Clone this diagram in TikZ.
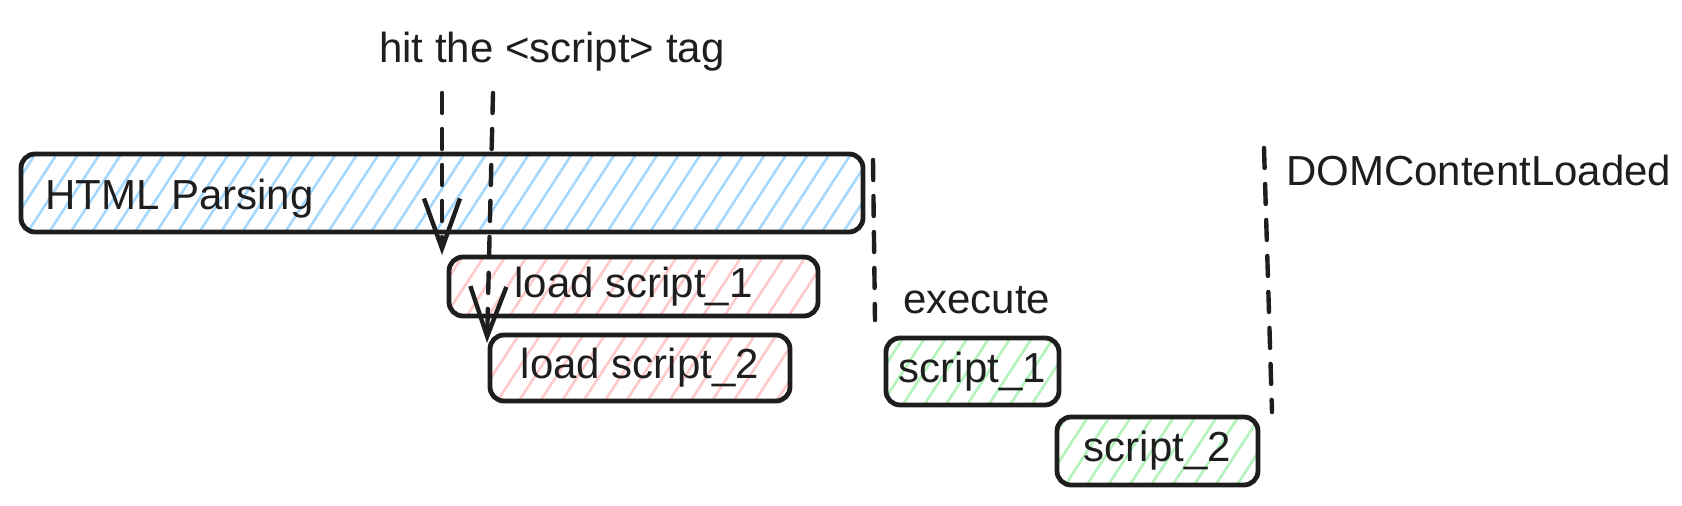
\documentclass[tikz,border=0pt]{standalone}
\usepackage{fontspec}
\setmainfont{Liberation Sans}
\usetikzlibrary{arrows.meta,patterns.meta}
\definecolor{ink}{HTML}{1E1E1E}
\definecolor{parseblue}{HTML}{A5D8FF}
\definecolor{loadred}{HTML}{FFC9C9}
\definecolor{runGreen}{HTML}{B2F2BB}
\tikzset{>={Straight Barb[length=25pt,width=18pt]}, % open v-shaped heads
every node/.style={font=\fontsize{21}{24}\selectfont, text=ink}, % same text size everywhere
phase/.style={draw=ink, line width=2.4pt, rounded corners=7pt, inner sep=0pt,
  pattern={Lines[angle=57,distance=9pt,line width=1.3pt]}, pattern color=#1}, % hatched bar
marker/.style={draw=ink, line width=2.2pt, dash pattern=on 10pt off 8pt, line cap=round}, % dashed time mark
}

\begin{document}
\begin{tikzpicture}[x=0.5pt,y=-0.5pt]
\useasboundingbox (0,0) rectangle (1682,506);
\node[phase=parseblue, minimum width=421pt, minimum height=39pt] (html) at (442,193) {};
\node[anchor=base west] (htmllbl) at (38,210) {HTML Parsing};
\node[phase=loadred, minimum width=184.5pt, minimum height=29.5pt] (load1) at (633.5,286.5) {load script\_1};
\node[phase=loadred, minimum width=150pt, minimum height=33pt] (load2) at (640,368) {load script\_2};
\node[phase=runGreen, minimum width=86.5pt, minimum height=33.5pt] (run1) at (972.5,371.5) {script\_1};
\node[phase=runGreen, minimum width=100.5pt, minimum height=34pt] (run2) at (1157.5,451) {script\_2};
\node[anchor=base west] (tag) at (372,63) {hit the <script> tag};
\node[anchor=base west] (exec) at (896,314) {execute};
\node[anchor=base west] (dom) at (1279,186) {DOMContentLoaded};
% dashed marks
\coordinate (tag1) at (442,93);
\coordinate (tag1end) at (442,255);
\coordinate (tag2) at (493,93);
\coordinate (tag2end) at (487,343);
\coordinate (parsed) at (873,160);
\coordinate (parsedend) at (875,320);
\coordinate (domtop) at (1264,148);
\coordinate (domend) at (1272,412);
\draw[marker,->] (tag1) -- (tag1end);
\draw[marker,->] (tag2) -- (tag2end);
\draw[marker] (parsed) -- (parsedend);
\draw[marker] (domtop) -- (domend);
\end{tikzpicture}
\end{document}
